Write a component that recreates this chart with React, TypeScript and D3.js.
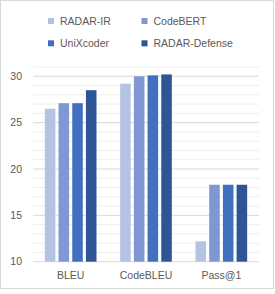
import React from "react";
import * as d3 from "d3";

const categories = ["BLEU", "CodeBLEU", "Pass@1"];
const seriesNames = ["RADAR-IR", "CodeBERT", "UniXcoder", "RADAR-Defense"];
const radarIR = [26.5, 29.2, 12.2];
const codeBERT = [27.1, 30.0, 18.3];
const uniXcoder = [27.1, 30.1, 18.3];
const radarDefense = [28.5, 30.2, 18.3];
const colors = ["#b4c2e3", "#7f97d3", "#4170c1", "#2f5597"];
const yTicks = [10, 15, 20, 25, 30];

const W = 275;
const H = 294;
const plot = { left: 33, right: 259, top: 67, bottom: 261.7 };
const FONT = "'Liberation Sans', Arial, sans-serif";

export default function App() {
  const values = [radarIR, codeBERT, uniXcoder, radarDefense];
  const y = d3.scaleLinear().domain([10, 31]).range([plot.bottom, plot.top]);
  const x0 = d3.scaleBand().domain(categories).range([plot.left, plot.right]).padding(0);
  const x1 = d3
    .scaleBand()
    .domain(seriesNames)
    .range([0, x0.bandwidth()])
    .paddingInner(0.23)
    .paddingOuter(0.865);
  const minor = d3.range(10, 32, 1);

  return (
    <svg
      width={W}
      height={H}
      style={{ position: "absolute", left: 0, top: 0, background: "#fff" }}
      fontFamily={FONT}
    >
      <rect x={0.5} y={0.5} width={273} height={288} fill="#fff" stroke="#d9d9d9" />
      {minor.map((v) => (
        <line
          key={"g" + v}
          x1={plot.left}
          x2={plot.right}
          y1={y(v)}
          y2={y(v)}
          stroke={v % 5 === 0 ? "#d9d9d9" : "#eeeeee"}
          strokeWidth={1}
        />
      ))}
      {yTicks.map((t) => (
        <text
          key={"t" + t}
          x={22}
          y={y(t)}
          dy="0.35em"
          textAnchor="end"
          fontSize={10.5}
          fill="#595959"
        >
          {t}
        </text>
      ))}
      {categories.map((c, ci) => (
        <g key={c}>
          {seriesNames.map((s, si) => {
            const v = values[si][ci];
            const bx = (x0(c) as number) + (x1(s) as number);
            return (
              <rect
                key={s}
                x={bx}
                y={y(v)}
                width={x1.bandwidth()}
                height={y(10) - y(v)}
                fill={colors[si]}
              />
            );
          })}
          <text
            x={(x0(c) as number) + x0.bandwidth() / 2}
            y={275}
            dy="0.35em"
            textAnchor="middle"
            fontSize={10.5}
            fill="#595959"
          >
            {c}
          </text>
        </g>
      ))}
      {seriesNames.map((s, i) => {
        const col = i % 2;
        const row = Math.floor(i / 2);
        const lx = col === 0 ? 48 : 141.5;
        const ly = row === 0 ? 21 : 43.3;
        return (
          <g key={"l" + s}>
            <rect x={lx} y={ly - 3} width={6} height={6} fill={colors[i]} />
            <text x={lx + 12} y={ly} dy="0.35em" fontSize={10.5} fill="#595959">
              {s}
            </text>
          </g>
        );
      })}
    </svg>
  );
}
